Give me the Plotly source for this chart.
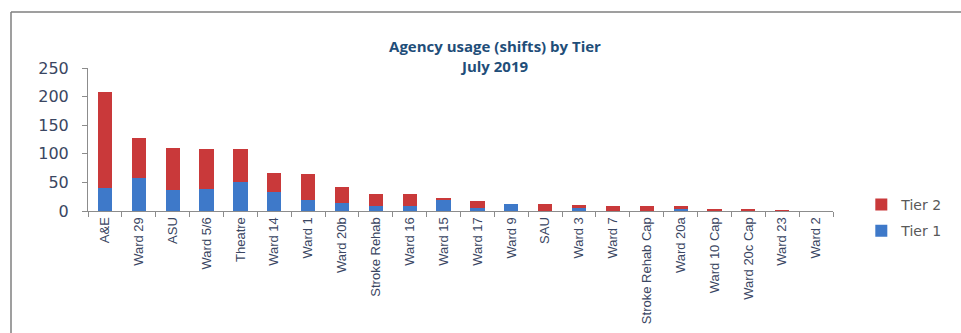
import plotly.graph_objects as go

# Agency shifts per ward, July 2019
wards = ["A&E", "Ward 29", "ASU", "Ward 5/6", "Theatre", "Ward 14", "Ward 1",
         "Ward 20b", "Stroke Rehab", "Ward 16", "Ward 15", "Ward 17", "Ward 9",
         "SAU", "Ward 3", "Ward 7", "Stroke Rehab Cap", "Ward 20a", "Ward 10 Cap",
         "Ward 20c Cap", "Ward 23", "Ward 2"]
tier1 = [40, 57, 37, 39, 51, 33, 19, 14, 8, 8, 20, 6, 13, 0, 6, 0, 0, 3, 1, 1, 0, 0]
tier2 = [168, 71, 73, 69, 57, 33, 45, 28, 22, 21, 2, 11, 0, 13, 5, 9, 8, 5, 3, 2, 1, 0]

y_ticks = [0, 50, 100, 150, 200, 250]

RED = "#C9393A"
BLUE = "#3E79C9"
AXIS_TEXT = "#3A4662"

fig = go.Figure()
fig.add_trace(go.Bar(x=wards, y=tier1, name="Tier 1", marker_color=BLUE,
                     marker_line_width=0, legendgroup="t1", legendrank=2))
fig.add_trace(go.Bar(x=wards, y=tier2, name="Tier 2", marker_color=RED,
                     marker_line_width=0, legendgroup="t2", legendrank=1))

fig.update_layout(
    barmode="stack",
    bargap=0.58,
    width=961, height=333,
    margin=dict(l=88, r=128, t=68, b=122, autoexpand=False),
    paper_bgcolor="white",
    plot_bgcolor="white",
    title=dict(
        text="Agency usage (shifts) by Tier<br>July 2019",
        x=525 / 961, xanchor="center", xref="paper",
        y=1 - 52 / 333, yanchor="top", yref="container",
        font=dict(family="Open Sans", size=15, color="#1F4E79", weight="bold"),
    ),
    legend=dict(
        x=1.038, xanchor="left",
        y=0.155, yanchor="top",
        traceorder="grouped",
        tracegroupgap=5,
        font=dict(family="DejaVu Sans", size=14, color="#595959"),
        itemwidth=30,
        bgcolor="rgba(0,0,0,0)",
    ),
    showlegend=True,
)

fig.update_xaxes(
    type="category", automargin=False,
    showline=True, linecolor="#8C8C8C", linewidth=1,
    ticks="outside", tickson="boundaries", ticklen=5, tickcolor="#8C8C8C",
    tickangle=-90,
    tickfont=dict(family="Liberation Sans", size=13, color=AXIS_TEXT),
    showgrid=False,
)
fig.update_yaxes(
    range=[0, 250], tickvals=y_ticks, automargin=False,
    showline=True, linecolor="#8C8C8C", linewidth=1,
    ticks="outside", ticklen=5, tickcolor="#8C8C8C",
    ticklabelstandoff=10,
    tickfont=dict(family="DejaVu Sans", size=16, color=AXIS_TEXT),
    showgrid=False, zeroline=False,
)

# Outer chart frame (top and left edges visible)
fig.add_shape(type="line", xref="paper", yref="paper",
              x0=(11 - 88) / 745, x1=(975 - 88) / 745,
              y0=1 + (68 - 12) / 143, y1=1 + (68 - 12) / 143,
              line=dict(color="#7F7F7F", width=1.5))
fig.add_shape(type="line", xref="paper", yref="paper",
              x0=(11 - 88) / 745, x1=(11 - 88) / 745,
              y0=1 + (68 - 12) / 143, y1=-(345 - 211) / 143,
              line=dict(color="#7F7F7F", width=1.5))

fig.write_html("out.html")
